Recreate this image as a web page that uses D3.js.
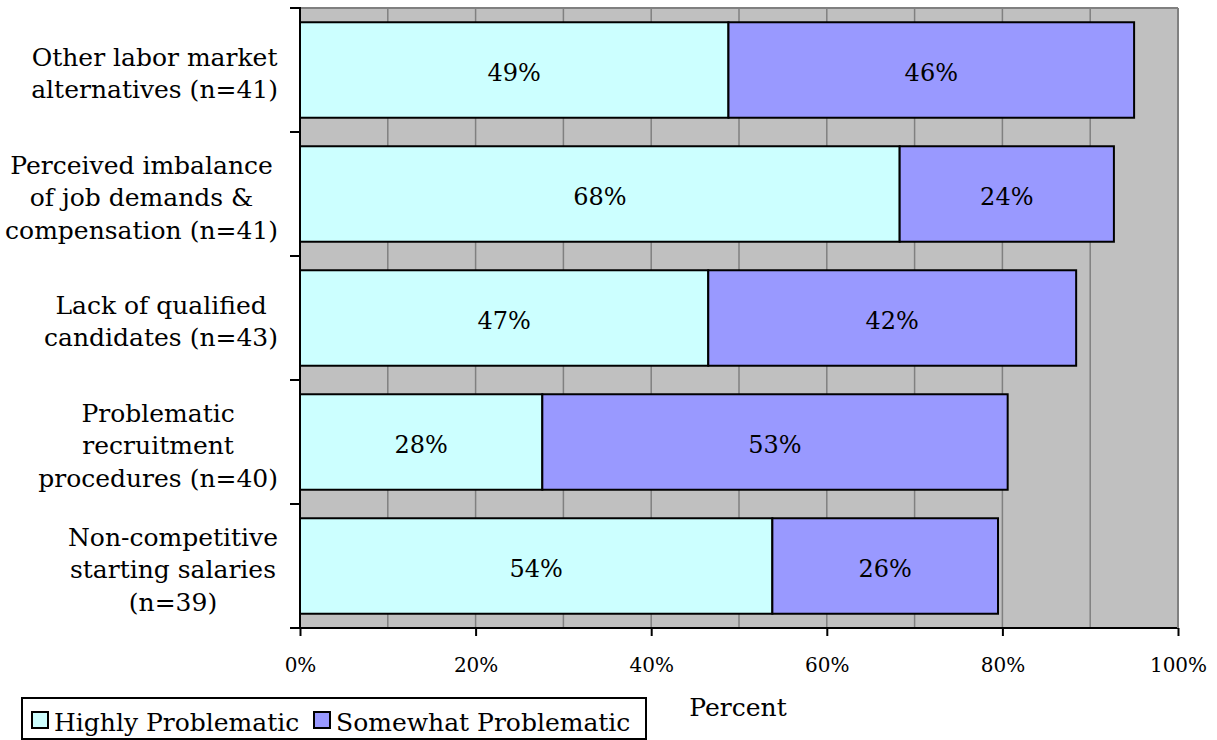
<!DOCTYPE html>
<html>
<head>
<meta charset="utf-8">
<script src="https://cdn.jsdelivr.net/npm/d3@7"></script>
<style>
  html, body { margin: 0; padding: 0; background: #ffffff; }
  svg { display: block; font-family: "DejaVu Serif", "Liberation Serif", serif; }
</style>
</head>
<body>
<svg id="chart" width="1217" height="740"></svg>
<script>
// ---- data (top to bottom) ----
const categories = [
  ["Other labor market", "alternatives (n=41)"],
  ["Perceived imbalance", "of job demands &", "compensation (n=41)"],
  ["Lack of qualified", "candidates (n=43)"],
  ["Problematic", "recruitment", "procedures (n=40)"],
  ["Non-competitive", "starting salaries", "(n=39)"]
];
const highlyProblematic   = [48.8, 68.3, 46.5, 27.6, 53.8];
const somewhatProblematic = [46.2, 24.4, 41.9, 53.0, 25.7];
const seriesNames = ["Highly Problematic", "Somewhat Problematic"];
const seriesColors = ["#CCFFFF", "#9999FF"];
const xTicks = [0, 20, 40, 60, 80, 100];
const xGrid = [10, 20, 30, 40, 50, 60, 70, 80, 90, 100];
const axisTitle = "Percent";

// ---- layout ----
const svg = d3.select("#chart");
const plot = { left: 300, right: 1178, top: 8, bottom: 628 };

const x = d3.scaleLinear().domain([0, 100]).range([plot.left, plot.right]);
const keys = categories.map((c, i) => i);
const y = d3.scaleBand().domain(keys).range([plot.top, plot.bottom])
  .paddingInner(0.23).paddingOuter(0.115);

// background
svg.append("rect")
  .attr("x", plot.left).attr("y", plot.top)
  .attr("width", plot.right - plot.left).attr("height", plot.bottom - plot.top)
  .attr("fill", "#C0C0C0");

// gridlines
svg.append("g").selectAll("line").data(xGrid).join("line")
  .attr("x1", d => x(d)).attr("x2", d => x(d))
  .attr("y1", plot.top).attr("y2", plot.bottom)
  .attr("stroke", "#808080").attr("stroke-width", 1.5);

// top border
svg.append("line")
  .attr("x1", plot.left).attr("x2", plot.right)
  .attr("y1", plot.top).attr("y2", plot.top)
  .attr("stroke", "#808080").attr("stroke-width", 2);

// stacked bars
const stackData = keys.map(i => ({ i, a: highlyProblematic[i], b: somewhatProblematic[i] }));
const stack = d3.stack().keys(["a", "b"])(stackData);

stack.forEach((layer, li) => {
  const g = svg.append("g");
  g.selectAll("rect").data(layer).join("rect")
    .attr("x", d => x(d[0]))
    .attr("y", d => y(d.data.i))
    .attr("width", d => x(d[1]) - x(d[0]))
    .attr("height", y.bandwidth())
    .attr("fill", seriesColors[li])
    .attr("stroke", "#000").attr("stroke-width", 2);
  g.selectAll("text").data(layer).join("text")
    .attr("x", d => (x(d[0]) + x(d[1])) / 2)
    .attr("y", d => y(d.data.i) + y.bandwidth() / 2 + 11)
    .attr("text-anchor", "middle")
    .attr("font-size", 24)
    .attr("fill", "#000")
    .text(d => Math.round(d[1] - d[0]) + "%");
});

// left axis
const yAxisG = svg.append("g");
yAxisG.append("line")
  .attr("x1", plot.left).attr("x2", plot.left)
  .attr("y1", plot.top - 1).attr("y2", plot.bottom)
  .attr("stroke", "#000").attr("stroke-width", 2);
const boundaries = keys.map(i => y(i) - y.step() * y.paddingInner() / 2).concat([plot.bottom]);
yAxisG.selectAll("line.tick").data(boundaries).join("line")
  .attr("class", "tick")
  .attr("x1", plot.left - 10).attr("x2", plot.left)
  .attr("y1", d => d).attr("y2", d => d)
  .attr("stroke", "#000").attr("stroke-width", 2);

// category labels (centered block, right-aligned)
const labelRight = 278;
const lineH = 32.5;
categories.forEach((lines, i) => {
  const cy = y(i) + y.bandwidth() / 2;
  const t = svg.append("text")
    .attr("font-size", 25).attr("fill", "#000").attr("text-anchor", "middle");
  const spans = lines.map((ln, k) => t.append("tspan")
    .attr("y", cy + (k - (lines.length - 1) / 2) * lineH + 12)
    .text(ln));
  const maxW = d3.max(spans, s => s.node().getComputedTextLength());
  spans.forEach(s => s.attr("x", labelRight - maxW / 2));
});

// bottom axis
const xAxis = d3.axisBottom(x).tickValues(xTicks).tickFormat(d => d + "%").tickSize(8).tickPadding(22);
const xg = svg.append("g").attr("transform", `translate(0,${plot.bottom})`).call(xAxis);
xg.select(".domain").attr("stroke", "#000").attr("stroke-width", 2).attr("d", `M${plot.left},0H${plot.right}`);
xg.selectAll(".tick line").attr("stroke", "#000").attr("stroke-width", 2);
xg.selectAll(".tick text").attr("font-size", 20).attr("font-family", "DejaVu Serif").attr("fill", "#000");

// right border (gray)
svg.append("line")
  .attr("x1", plot.right).attr("x2", plot.right)
  .attr("y1", plot.top).attr("y2", plot.bottom)
  .attr("stroke", "#808080").attr("stroke-width", 2);

// axis title
svg.append("text")
  .attr("x", 738).attr("y", 716)
  .attr("text-anchor", "middle").attr("font-size", 25).attr("fill", "#000")
  .text(axisTitle);

// legend
const legend = svg.append("g");
legend.append("rect")
  .attr("x", 22).attr("y", 698).attr("width", 624).attr("height", 41)
  .attr("fill", "#fff").attr("stroke", "#000").attr("stroke-width", 2);
const legendX = [32, 314];
seriesNames.forEach((name, i) => {
  legend.append("rect")
    .attr("x", legendX[i]).attr("y", 712).attr("width", 16).attr("height", 16)
    .attr("fill", seriesColors[i]).attr("stroke", "#000").attr("stroke-width", 2);
  legend.append("text")
    .attr("x", legendX[i] + 22).attr("y", 731)
    .attr("font-size", 25).attr("fill", "#000")
    .text(name);
});
</script>
</body>
</html>
